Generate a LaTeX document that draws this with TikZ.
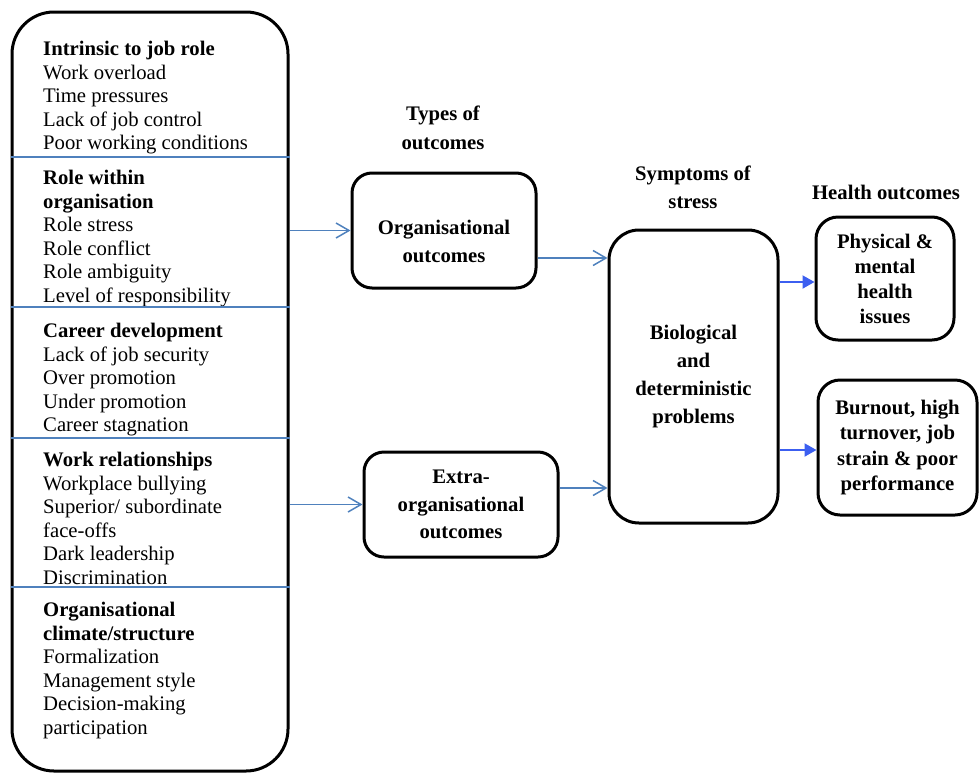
\documentclass[tikz,border=0pt]{standalone}
\usepackage{fontspec}
\setmainfont{Liberation Serif}
\usetikzlibrary{arrows.meta,positioning,calc}

\definecolor{barbblue}{RGB}{79,129,189}
\definecolor{tipblue}{RGB}{60,95,240}

\begin{document}
\begin{tikzpicture}[x=1pt,y=-1pt,
    every node/.style={font=\fontsize{20.7}{23.6}\selectfont},
    bigbox/.style={draw,line width=3pt,rounded corners=42pt,inner sep=0pt},
    outbox/.style={draw,line width=3pt,rounded corners=20pt,align=center,inner sep=2pt},
    boldtext/.style={align=center,font=\fontsize{20.7}{#1}\bfseries\selectfont},
    listtext/.style={anchor=north west,align=left,inner sep=0pt},
    divider/.style={barbblue,line width=1.3pt},
    barb/.style={barbblue,line width=1.5pt,-{Straight Barb[length=13pt,width=15pt,line width=1.5pt]}},
    tip/.style={tipblue,line width=2pt,-{Triangle[length=12pt,width=13pt]}}]
        \useasboundingbox (0,0) rectangle (979,774);

        % stressor list
        \node[bigbox,minimum width=276pt,minimum height=759pt] (left) at (150,391.5) {};
        \node[listtext] (jobrole) at (43,41) {\textbf{Intrinsic to job role}\\Work overload\\Time pressures\\Lack of job control\\Poor working conditions};
        \node[listtext] (orgrole) at (43,170) {\textbf{Role within}\\\textbf{organisation}\\Role stress\\Role conflict\\Role ambiguity\\Level of responsibility};
        \node[listtext] (career) at (43,323) {\textbf{Career development}\\Lack of job security\\Over promotion\\Under promotion\\Career stagnation};
        \node[listtext] (relations) at (43,452) {\textbf{Work relationships}\\Workplace bullying\\Superior/ subordinate\\face-offs\\Dark leadership\\Discrimination};
        \node[listtext] (climate) at (43,602) {\textbf{Organisational}\\\textbf{climate/structure}\\Formalization\\Management style\\Decision-making\\participation};
        \foreach \y in {157,307,438,587}
            \draw[divider] (left.west |- 0,\y) -- (left.east |- 0,\y);

        % column headers
        \node[boldtext=29] (typeshead) at (443,127.5) {Types of\\outcomes};
        \node[boldtext=28] (symphead) at (693,187) {Symptoms of\\stress};
        \node[boldtext=28] (healthhead) at (886,192) {Health outcomes};

        % outcome boxes
        \node[outbox,minimum width=184pt,minimum height=115pt] (org) at (444,230.5) {};
        \node[boldtext=28] (orgtext) at (444,241) {Organisational\\outcomes};
        \node[outbox,minimum width=194pt,minimum height=105pt,boldtext=27.5] (extra) at (461,504.5) {Extra-\\organisational\\outcomes};
        \node[outbox,rounded corners=30pt,minimum width=169pt,minimum height=293pt,boldtext=28.3] (sym) at (693.5,376.5) {Biological\\and\\deterministic\\problems};
        \node[outbox,rounded corners=22pt,minimum width=138pt,minimum height=123pt,boldtext=25] (phys) at (885,278.5) {Physical \&\\mental\\health\\issues};
        \node[outbox,rounded corners=22pt,minimum width=159pt,minimum height=135pt,boldtext=25.3] (burn) at (897.5,447.5) {Burnout, high\\turnover, job\\strain \& poor\\performance};

        % connectors
        \draw[barb] (left.east |- org.west) -- (org.west);
        \draw[barb] (left.east |- extra.west) -- (extra.west);
        \draw[barb] ([yshift=-27.5pt]org.east) -- ([yshift=-27.5pt]org.east -| sym.west);
        \draw[barb] ([yshift=16.5pt]extra.east) -- ([yshift=16.5pt]extra.east -| sym.west);
        \draw[tip] ([yshift=-3.5pt]sym.east |- phys.west) -- ([yshift=-3.5pt]phys.west);
        \draw[tip] ([yshift=-2.5pt]sym.east |- burn.west) -- ([yshift=-2.5pt]burn.west);
\end{tikzpicture}
\end{document}
